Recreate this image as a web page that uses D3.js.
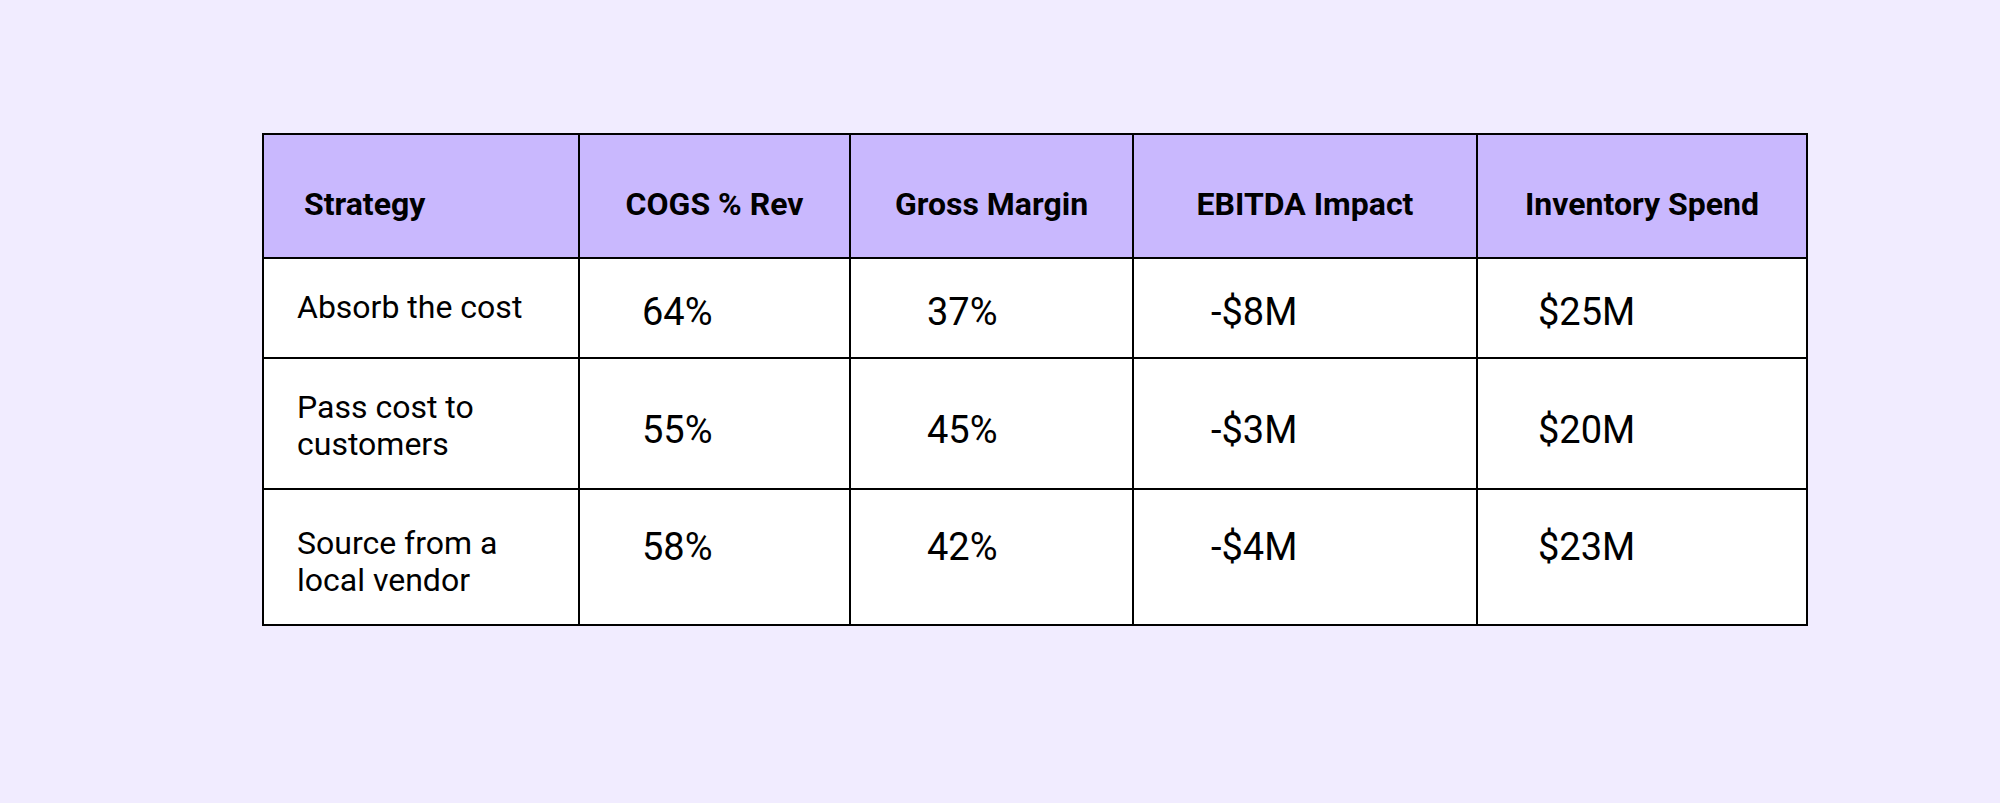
<!DOCTYPE html>
<html lang="en">
<head>
    <meta charset="UTF-8">
    <title>Strategy comparison table</title>
    <script src="https://d3js.org/d3.v7.min.js"></script>
    <style>
        body, html {
            margin: 0;
            background-color: #f1ecff;
            font-family: 'Roboto', sans-serif;
        }
        svg { display: block; }
    </style>
</head>
<body>
<svg id="chart"></svg>

<script>
    // data
    const headers = ["Strategy", "COGS % Rev", "Gross Margin", "EBITDA Impact", "Inventory Spend"];
    const strategies = [["Absorb the cost"], ["Pass cost to", "customers"], ["Source from a", "local vendor"]];
    const cogsPct = [64, 55, 58];
    const grossMargin = [37, 45, 42];
    const ebitdaImpact = [-8, -3, -4];
    const inventorySpend = [25, 20, 23];

    const width = 2000, height = 803;

    // layout of the grid (px)
    const colEdges = [263, 579, 850, 1133, 1477, 1807];
    const rowEdges = [134, 258, 358, 489, 625];
    const valuePad = [0, 63, 77, 78, 61];   // left padding of the value text per column
    const valueDy = [17, 19.5, 3];          // value baseline vs row middle
    const labelDy = [10, -6, -3];           // first label baseline vs row middle
    const lineH = 37;

    const svg = d3.select("#chart")
        .attr("width", width)
        .attr("height", height);

    const x = d3.scaleOrdinal().domain(d3.range(headers.length)).range(colEdges.slice(0, -1));
    const w = d3.scaleOrdinal().domain(d3.range(headers.length)).range(d3.pairs(colEdges).map(([a, b]) => b - a));
    const y = d3.scaleOrdinal().domain(d3.range(rowEdges.length - 1)).range(rowEdges.slice(0, -1));
    const h = d3.scaleOrdinal().domain(d3.range(rowEdges.length - 1)).range(d3.pairs(rowEdges).map(([a, b]) => b - a));

    const fmt = [
        null,
        v => `${v}%`,
        v => `${v}%`,
        v => (v < 0 ? "-" : "") + "$" + Math.abs(v) + "M",
        v => `$${v}M`
    ];
    const cols = [null, cogsPct, grossMargin, ebitdaImpact, inventorySpend];

    // background cells
    const cells = [];
    d3.range(rowEdges.length - 1).forEach(r => {
        d3.range(headers.length).forEach(c => cells.push({r, c}));
    });

    svg.selectAll("rect.cell")
        .data(cells)
        .join("rect")
        .attr("class", "cell")
        .attr("x", d => x(d.c))
        .attr("y", d => y(d.r))
        .attr("width", d => w(d.c))
        .attr("height", d => h(d.r))
        .attr("fill", d => d.r === 0 ? "#c9b8fe" : "#ffffff")
        .attr("stroke", "#000")
        .attr("stroke-width", 2);

    // header row
    svg.selectAll("text.head")
        .data(headers)
        .join("text")
        .attr("class", "head")
        .attr("x", (d, i) => i === 0 ? x(i) + 41 : x(i) + w(i) / 2)
        .attr("y", y(0) + 80.5)
        .attr("text-anchor", (d, i) => i === 0 ? "start" : "middle")
        .attr("font-size", 32)
        .attr("font-weight", 700)
        .attr("fill", "#000")
        .text(d => d);

    // strategy labels
    const labels = svg.selectAll("text.label")
        .data(strategies)
        .join("text")
        .attr("class", "label")
        .attr("font-size", 32)
        .attr("fill", "#000");

    labels.selectAll("tspan")
        .data((d, i) => d.map((line, k) => ({line, k, r: i + 1})))
        .join("tspan")
        .attr("x", x(0) + 34)
        .attr("y", d => {
            const mid = y(d.r) + h(d.r) / 2;
            return mid + labelDy[d.r - 1] + d.k * lineH;
        })
        .text(d => d.line);

    // values
    const vals = [];
    strategies.forEach((s, i) => {
        for (let c = 1; c < headers.length; c++) vals.push({r: i + 1, c, v: cols[c][i]});
    });

    svg.selectAll("text.val")
        .data(vals)
        .join("text")
        .attr("class", "val")
        .attr("x", d => x(d.c) + valuePad[d.c])
        .attr("y", d => y(d.r) + h(d.r) / 2 + valueDy[d.r - 1])
        .attr("font-size", 38)
        .attr("fill", "#000")
        .text(d => fmt[d.c](d.v));
</script>
</body>
</html>
